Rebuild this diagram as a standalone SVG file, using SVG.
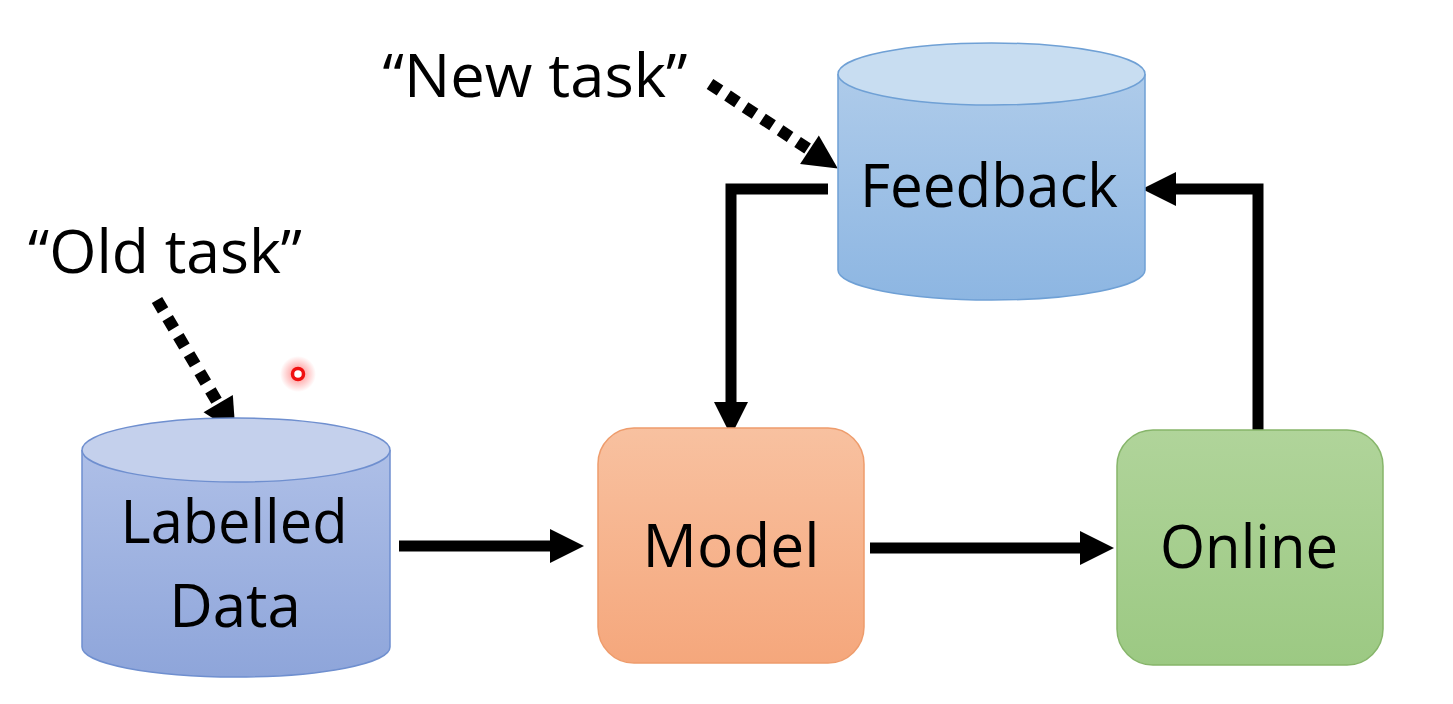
<svg xmlns="http://www.w3.org/2000/svg" width="1453" height="704" viewBox="0 0 1453 704">
<style>
text{font-family:"Open Sans","Liberation Sans",sans-serif;fill:#000;text-anchor:middle}
.lbl{font-size:60px}
.conn{fill:none;stroke:#000;stroke-width:11}
.dot{fill:none;stroke:#000;stroke-width:12;stroke-dasharray:12 9}
</style>
<defs>
<linearGradient id="gLab" x1="0" y1="0" x2="0" y2="1"><stop offset="0" stop-color="#aebfe7"/><stop offset="1" stop-color="#8ea5da"/></linearGradient>
<linearGradient id="gFb" x1="0" y1="0" x2="0" y2="1"><stop offset="0" stop-color="#aecbea"/><stop offset="1" stop-color="#8db6e2"/></linearGradient>
<linearGradient id="gMod" x1="0" y1="0" x2="0" y2="1"><stop offset="0" stop-color="#f8c1a0"/><stop offset="1" stop-color="#f5a77c"/></linearGradient>
<linearGradient id="gOn" x1="0" y1="0" x2="0" y2="1"><stop offset="0" stop-color="#b0d49a"/><stop offset="1" stop-color="#9cc983"/></linearGradient>
<radialGradient id="glow"><stop offset="0" stop-color="#ff3030" stop-opacity="0.6"/><stop offset="1" stop-color="#ff3030" stop-opacity="0"/></radialGradient>
<marker id="ah" markerUnits="userSpaceOnUse" markerWidth="35" markerHeight="34" refX="1" refY="17" orient="auto" overflow="visible"><path d="M0,0 L34,17 L0,34 Z" fill="#000"/></marker>
</defs>
<rect width="1453" height="704" fill="#fff"/>
<g id="connectors">
<line class="conn" x1="399" y1="546" x2="551" y2="546" marker-end="url(#ah)"/>
<line class="conn" x1="870" y1="548" x2="1081" y2="548" marker-end="url(#ah)"/>
<polyline class="conn" points="1258,435 1258,189 1175,189" marker-end="url(#ah)"/>
<polyline class="conn" points="828,189 731,189 731,403" marker-end="url(#ah)"/>
<line class="dot" x1="710" y1="84" x2="810.3" y2="150.3" marker-end="url(#ah)"/>
<line class="dot" x1="157" y1="300" x2="218.7" y2="404.4" marker-end="url(#ah)"/>
</g>
<g id="labelled-data">
<path d="M82,450 V647 A154,30 0 0 0 390,647 V450" fill="url(#gLab)" stroke="#6f8fcf" stroke-width="1.5"/>
<ellipse cx="236" cy="450" rx="154" ry="32" fill="#c4d0ec" stroke="#6f8fcf" stroke-width="1.5"/>
<text class="lbl" x="234" y="543" textLength="227" lengthAdjust="spacingAndGlyphs">Labelled</text>
<text class="lbl" x="235" y="627">Data</text>
</g>
<g id="model">
<rect x="598" y="428" width="266" height="235" rx="36" fill="url(#gMod)" stroke="#ee9c6c" stroke-width="1.5"/>
<text class="lbl" x="731" y="567" textLength="177" lengthAdjust="spacingAndGlyphs">Model</text>
</g>
<g id="online">
<rect x="1117" y="430" width="266" height="235" rx="36" fill="url(#gOn)" stroke="#86b56a" stroke-width="1.5"/>
<text class="lbl" x="1249" y="568" textLength="178" lengthAdjust="spacingAndGlyphs">Online</text>
</g>
<g id="feedback">
<path d="M838,74 V270 A153.5,30 0 0 0 1145,270 V74" fill="url(#gFb)" stroke="#6fa0d5" stroke-width="1.5"/>
<ellipse cx="991.5" cy="74" rx="153.5" ry="31" fill="#c8ddf1" stroke="#6fa0d5" stroke-width="1.5"/>
<text class="lbl" x="989" y="207" textLength="258" lengthAdjust="spacingAndGlyphs">Feedback</text>
</g>
<g id="new-task">
<text class="lbl" x="535" y="97" textLength="305" lengthAdjust="spacingAndGlyphs">“New task”</text>
</g>
<g id="old-task">
<text class="lbl" x="165" y="273" textLength="274" lengthAdjust="spacingAndGlyphs">“Old task”</text>
</g>
<g id="pointer">
<circle cx="298" cy="374" r="18" fill="url(#glow)"/>
<circle cx="298" cy="374" r="5.5" fill="#fff" stroke="#f01010" stroke-width="3.5"/>
</g>
</svg>
